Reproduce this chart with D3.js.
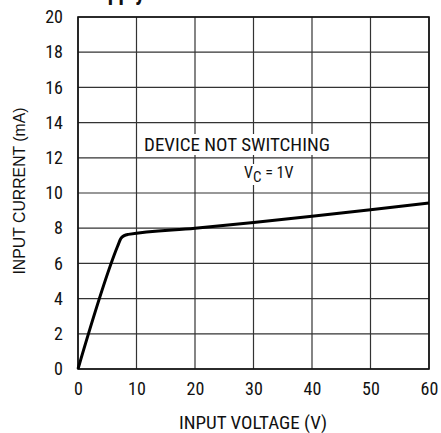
<!DOCTYPE html>
<html><head><meta charset="utf-8">
<script src="https://cdn.jsdelivr.net/npm/d3@7"></script>
<style>
html,body{margin:0;padding:0;background:#fff;}
svg{display:block;}
text{font-family:"Liberation Sans Narrow","Arial Narrow","Roboto Condensed","Liberation Sans",sans-serif;fill:#111;}
</style></head>
<body>
<svg id="c" width="441" height="433"></svg>
<script>
const title = "Supply Current";
const xTicks = [0,10,20,30,40,50,60];
const yTicks = [0,2,4,6,8,10,12,14,16,18,20];
const voltage = [0, 6.8, 7.3, 7.9, 8.6, 20, 30, 40, 50, 60];
const current = [0, 7.0, 7.4, 7.58, 7.65, 8.0, 8.33, 8.68, 9.05, 9.43];
const xLabel = "INPUT VOLTAGE (V)";
const yLabel = "INPUT CURRENT (mA)";
const note1 = "DEVICE NOT SWITCHING";

const svg = d3.select("#c");
const L = 78, R = 429, T = 17, B = 369;
const x = d3.scaleLinear().domain([0,60]).range([L,R]);
const y = d3.scaleLinear().domain([0,20]).range([B,T]);

// title (cut off at top, as in the reference)
svg.append("text").attr("x", 85).attr("y", 0).attr("font-size", 22).attr("font-weight", "bold").text(title);

// grid
const g = svg.append("g");
g.selectAll("line.vx").data(xTicks).join("line")
  .attr("x1", d=>x(d)).attr("x2", d=>x(d)).attr("y1", T).attr("y2", B)
  .attr("stroke", "#333").attr("stroke-width", 1.2);
g.selectAll("line.hy").data(yTicks).join("line")
  .attr("x1", L).attr("x2", R).attr("y1", d=>y(d)).attr("y2", d=>y(d))
  .attr("stroke", "#333").attr("stroke-width", 1.2);

// annotations with white backgrounds
const ann = svg.append("g");
const t1 = ann.append("text").attr("x", 237).attr("y", 151).attr("text-anchor", "middle").attr("font-size", 19).text(note1);
const t2 = ann.append("text").attr("x", 244).attr("y", 178).attr("font-size", 16);
t2.append("tspan").text("V");
t2.append("tspan").attr("dy", 4).attr("font-size", 15).text("C");
t2.append("tspan").attr("dy", -4).text(" = 1V");
[t1, t2].forEach(t => {
  const b = t.node().getBBox();
  ann.insert("rect", "text").attr("x", b.x - 2).attr("y", b.y + 1).attr("width", b.width + 4).attr("height", b.height - 2).attr("fill", "#fff");
});

// border
svg.append("rect").attr("x", L).attr("y", T).attr("width", R-L).attr("height", B-T)
  .attr("fill", "none").attr("stroke", "#111").attr("stroke-width", 1.6);

// tick labels via d3 axes
const xa = svg.append("g").attr("transform", `translate(0,${B})`)
  .call(d3.axisBottom(x).tickValues(xTicks).tickSize(0).tickPadding(13).tickFormat(d3.format("d")));
xa.select(".domain").remove();
xa.attr("font-family", null).attr("font-size", null);
xa.selectAll("text").attr("font-size", 18).attr("fill", "#111");
const ya = svg.append("g").attr("transform", `translate(${L},0)`)
  .call(d3.axisLeft(y).tickValues(yTicks).tickSize(0).tickPadding(15).tickFormat(d3.format("d")));
ya.select(".domain").remove();
ya.attr("font-family", null).attr("font-size", null);
ya.selectAll("text").attr("font-size", 18).attr("fill", "#111");

svg.append("text").attr("x", 253).attr("y", 429).attr("text-anchor", "middle").attr("font-size", 19).text(xLabel);
svg.append("text").attr("transform", "translate(25,191) rotate(-90)").attr("text-anchor", "middle")
  .attr("font-size", 15.8).style("font-family", "'Liberation Sans', Arial, sans-serif").text(yLabel);

// curve
const pts = voltage.map((v,i)=>[v, current[i]]);
svg.append("path").datum(pts)
  .attr("d", d3.line().x(d=>x(d[0])).y(d=>y(d[1])).curve(d3.curveMonotoneX))
  .attr("fill", "none").attr("stroke", "#000").attr("stroke-width", 3).attr("stroke-linejoin", "round");
</script>
</body></html>
